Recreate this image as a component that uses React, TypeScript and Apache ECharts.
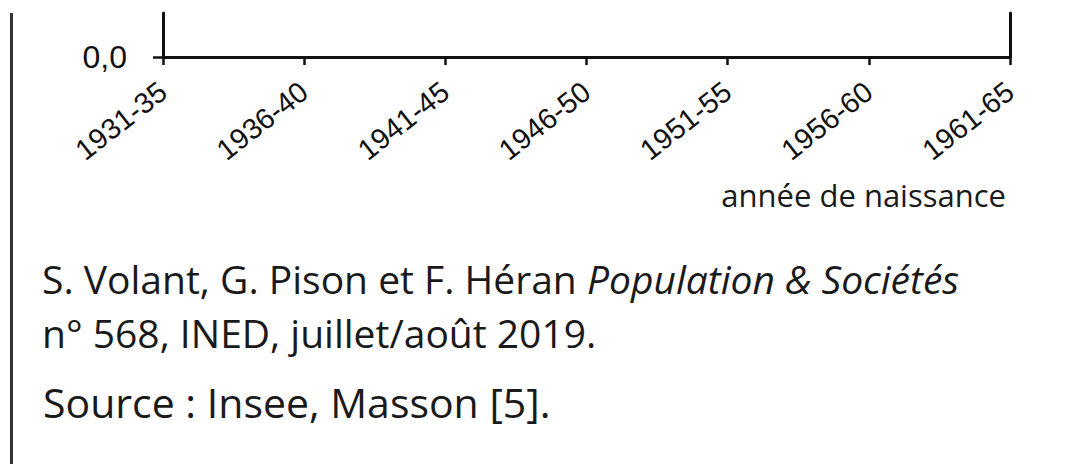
import React, { useEffect, useRef } from "react";
import * as echarts from "echarts";

const categories = ["1931-35", "1936-40", "1941-45", "1946-50", "1951-55", "1956-60", "1961-65"];
const yTickValues = [0];
const yTickLabels = ["0,0"];
const seriesValues: (number | null)[] = [null, null, null, null, null, null, null];
const xAxisTitle = "année de naissance";
const creditMain = "S. Volant, G. Pison et F. Héran ";
const creditItalic = "Population & Sociétés";
const creditLine2 = "n° 568, INED, juillet/août 2019.";
const sourceLine = "Source : Insee, Masson [5].";

export default function App() {
  const ref = useRef<HTMLDivElement>(null);
  useEffect(() => {
    if (!ref.current) return;
    const chart = echarts.init(ref.current, null, { renderer: "svg" });
    const ink = "#111";
    const txt = "#1a1a1a";
    const credFont = 39;
    chart.setOption({
      animation: false,
      backgroundColor: "#fff",
      grid: { left: 163, right: 69, top: 13, height: 44 },
      xAxis: {
        type: "category",
        data: categories,
        boundaryGap: false,
        axisLine: { lineStyle: { color: ink, width: 3 } },
        axisTick: { show: true, length: 8, lineStyle: { color: ink, width: 2.5 } },
        axisLabel: {
          interval: 0,
          rotate: 38,
          margin: 31,
          fontSize: 29,
          fontFamily: "Liberation Sans",
          color: ink,
        },
        splitLine: { show: false },
      },
      yAxis: [
        {
          type: "value",
          min: 0,
          max: 1,
          position: "left",
          axisLine: { show: true, lineStyle: { color: ink, width: 3 } },
          axisTick: { show: true, length: 10, customValues: yTickValues, lineStyle: { color: ink, width: 2.5 } },
          axisLabel: {
            customValues: yTickValues,
            formatter: (v: number) => {
              const i = yTickValues.indexOf(v);
              return i >= 0 ? yTickLabels[i] : "";
            },
            margin: 36,
            fontSize: 32,
            fontFamily: "Liberation Sans",
            color: ink,
          },
          splitLine: { show: false },
        },
        {
          type: "value",
          min: 0,
          max: 1,
          position: "right",
          axisLine: { show: true, lineStyle: { color: ink, width: 3 } },
          axisTick: { show: false },
          axisLabel: { show: false },
          splitLine: { show: false },
        },
      ],
      series: [{ type: "line", data: seriesValues, showSymbol: false }],
      graphic: [
        {
          type: "line",
          shape: { x1: 11.5, y1: 13, x2: 11.5, y2: 464 },
          style: { stroke: "#333", lineWidth: 3 },
        },
        {
          type: "text",
          x: 1006,
          y: 195,
          style: {
            text: xAxisTitle,
            fontSize: 31,
            fontFamily: "Open Sans",
            fill: txt,
            align: "right",
            verticalAlign: "middle",
          },
        },
        {
          type: "text",
          x: 42,
          y: 278,
          style: {
            text: "{n|" + creditMain + "}{i|" + creditItalic + "}",
            fontSize: credFont,
            fontFamily: "Open Sans",
            fill: txt,
            verticalAlign: "middle",
            rich: {
              n: { fontSize: credFont, fontFamily: "Open Sans", fill: txt },
              i: { fontSize: credFont, fontFamily: "Open Sans", fontStyle: "italic", fill: txt },
            },
          },
        },
        {
          type: "text",
          x: 42,
          y: 332,
          style: {
            text: creditLine2,
            fontSize: credFont,
            fontFamily: "Open Sans",
            fill: txt,
            verticalAlign: "middle",
          },
        },
        {
          type: "text",
          x: 43,
          y: 402,
          style: {
            text: sourceLine,
            fontSize: 41,
            fontFamily: "Open Sans",
            fill: txt,
            verticalAlign: "middle",
          },
        },
      ],
    });
    return () => chart.dispose();
  }, []);
  return (
    <div
      ref={ref}
      style={{ position: "fixed", left: 0, top: 0, width: 1079, height: 464, background: "#fff" }}
    />
  );
}
